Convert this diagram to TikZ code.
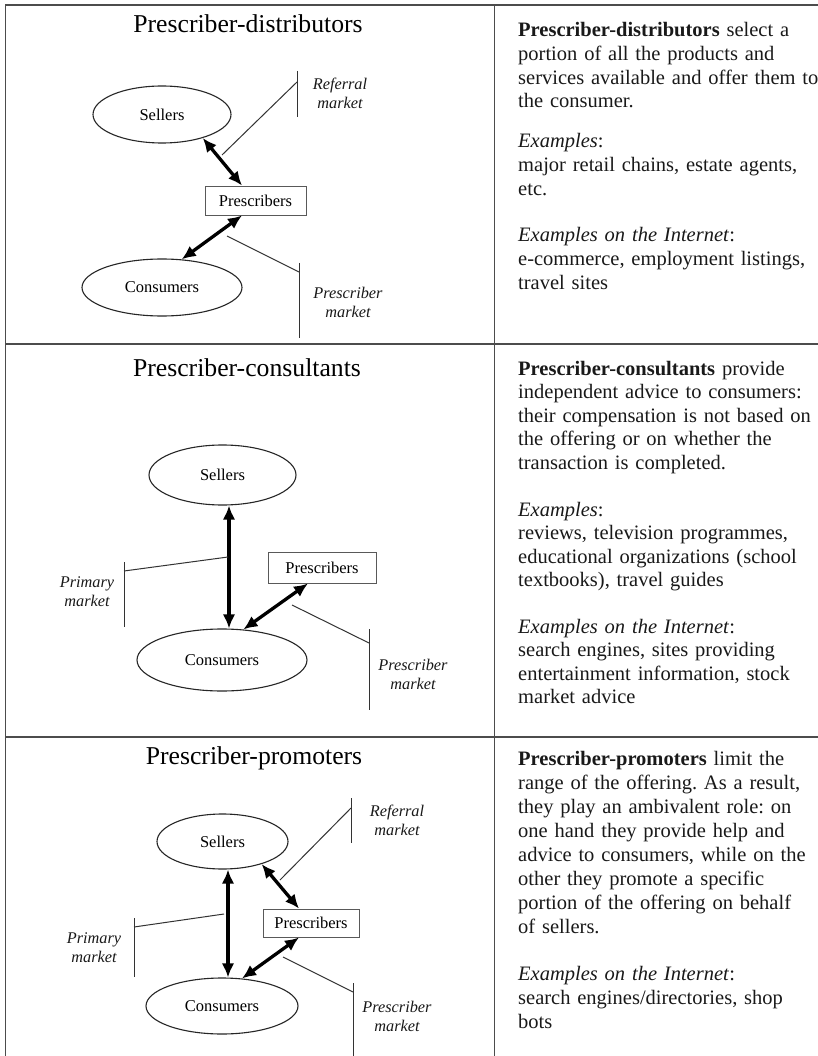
\documentclass[tikz,border=0pt]{standalone}
\usepackage{fontspec}
\setmainfont{Liberation Serif}
\usetikzlibrary{shapes.geometric,arrows.meta}
\frenchspacing
\begin{document}
\begin{tikzpicture}[x=1pt,y=-1pt,
  frame/.style={line width=1.3pt, draw=black!70},
  ttl/.style={anchor=base, inner sep=0, font=\fontsize{25.7}{30}\selectfont},
  ell/.style={ellipse, draw=black!85, line width=1.1pt, inner sep=0, font=\fontsize{16.5}{19}\selectfont},
  pbox/.style={rectangle, draw=black!65, line width=0.9pt, inner sep=0, font=\fontsize{16.5}{19}\selectfont},
  dbl/.style={{Latex[length=14pt,width=12.5pt]}-{Latex[length=14pt,width=12.5pt]}, line width=3.3pt},
  mk/.style={line width=1pt, draw=black!80},
  lbl/.style={align=center, inner sep=0, text=black!90, font=\fontsize{16.3}{19}\selectfont\itshape},
  para/.style={anchor=base west, inner sep=0, text width=320pt, align=left, text=black!90, font=\fontsize{20.5}{23.6}\selectfont\frenchspacing}
]
\fill[white] (0,0) rectangle (818,1056);
\useasboundingbox (0,0) rectangle (818,1056);
% frame
\draw[frame] (818,5) -- (5.5,5) -- (5.5,1056);
\draw[frame] (494.5,5) -- (494.5,1056);
\draw[frame] (5.5,344) -- (818,344);
\draw[frame] (5.5,737) -- (818,737);

% ===== Panel 1 =====
\node[ttl] (t1) at (248,33) {Prescriber-distributors};
\node[ell, minimum width=138pt, minimum height=57pt] (s1) at (162,114.5) {Sellers};
\node[pbox, minimum width=101pt, minimum height=29pt] (p1) at (255.5,200.5) {Prescribers};
\node[ell, minimum width=160pt, minimum height=57pt] (c1) at (162,287.5) {Consumers};
\draw[dbl] (s1.-30) -- ([xshift=-13.5pt]p1.north);
\draw[dbl] ([xshift=-13.5pt]p1.south) -- (c1.55.5);
\coordinate (r1a) at (222,155);
\coordinate (r1b) at (297,82);
\coordinate (r1t) at (297,71);
\coordinate (r1u) at (297,117);
\draw[mk] (r1a) -- (r1b);
\draw[mk] (r1t) -- (r1u);
\node[lbl] (lr1) at (340,93) {Referral\\market};
\coordinate (m1a) at (227,236);
\coordinate (m1b) at (299,272);
\coordinate (m1t) at (299,263);
\coordinate (m1u) at (299,338);
\draw[mk] (m1a) -- (m1b);
\draw[mk] (m1t) -- (m1u);
\node[lbl] (lm1) at (348,302) {Prescriber\\market};

\node[para] (d1a) at (518,37) {\textbf{Prescriber-distributors} select a\\portion of all the products and\\services available and offer them to\\the consumer.};
\node[para] (d1b) at (518,148) {\textit{Examples}:\\major retail chains, estate agents,\\etc.};
\node[para] (d1c) at (518,242) {\textit{Examples on the Internet}:\\e-commerce, employment listings,\\travel sites};

% ===== Panel 2 =====
\node[ttl] (t2) at (247,376) {Prescriber-consultants};
\node[ell, minimum width=147pt, minimum height=60pt] (s2) at (222.5,475) {Sellers};
\node[pbox, minimum width=108pt, minimum height=31pt] (p2) at (322,567.5) {Prescribers};
\node[ell, minimum width=170pt, minimum height=62pt] (c2) at (222,660) {Consumers};
\draw[dbl] ([xshift=6.5pt]s2.south) -- ([xshift=7pt]c2.north);
\draw[dbl] ([xshift=-14pt]p2.south) -- (c2.55.5);
\coordinate (q2a) at (228,557);
\coordinate (q2b) at (124,571);
\coordinate (q2t) at (124,562);
\coordinate (q2u) at (124,627);
\draw[mk] (q2a) -- (q2b);
\draw[mk] (q2t) -- (q2u);
\node[lbl] (lq2) at (87,592) {Primary\\market};
\coordinate (m2a) at (292,605);
\coordinate (m2b) at (369,643);
\coordinate (m2t) at (369,629);
\coordinate (m2u) at (369,710);
\draw[mk] (m2a) -- (m2b);
\draw[mk] (m2t) -- (m2u);
\node[lbl] (lm2) at (413,674) {Prescriber\\market};

\node[para] (d2a) at (518,375) {\textbf{Prescriber-consultants} provide\\independent advice to consumers:\\their compensation is not based on\\the offering or on whether the\\transaction is completed.};
\node[para] (d2b) at (518,516) {\textit{Examples}:\\reviews, television programmes,\\educational organizations (school\\textbooks), travel guides};
\node[para] (d2c) at (518,633) {\textit{Examples on the Internet}:\\search engines, sites providing\\entertainment information, stock\\market advice};

% ===== Panel 3 =====
\node[ttl] (t3) at (254,764) {Prescriber-promoters};
\node[ell, minimum width=131pt, minimum height=55pt] (s3) at (222.5,841.5) {Sellers};
\node[pbox, minimum width=96pt, minimum height=28pt] (p3) at (311,923) {Prescribers};
\node[ell, minimum width=152pt, minimum height=56pt] (c3) at (222,1006) {Consumers};
\draw[dbl] ([xshift=5.5pt]s3.south) -- ([xshift=6pt]c3.north);
\draw[dbl] (s3.-30) -- ([xshift=-12pt]p3.north);
\draw[dbl] ([xshift=-12pt]p3.south) -- (c3.54.5);
\coordinate (r3a) at (280,880);
\coordinate (r3b) at (351,808);
\coordinate (r3t) at (351,798);
\coordinate (r3u) at (351,843);
\draw[mk] (r3a) -- (r3b);
\draw[mk] (r3t) -- (r3u);
\node[lbl] (lr3) at (397,820.5) {Referral\\market};
\coordinate (q3a) at (224,914);
\coordinate (q3b) at (134,927);
\coordinate (q3t) at (134,918);
\coordinate (q3u) at (134,977);
\draw[mk] (q3a) -- (q3b);
\draw[mk] (q3t) -- (q3u);
\node[lbl] (lq3) at (94,948) {Primary\\market};
\coordinate (m3a) at (283,957);
\coordinate (m3b) at (353,992);
\coordinate (m3t) at (353,983);
\coordinate (m3u) at (353,1056);
\draw[mk] (m3a) -- (m3b);
\draw[mk] (m3t) -- (m3u);
\node[lbl] (lm3) at (397,1016.5) {Prescriber\\market};

\node[para, font=\fontsize{20.5}{24}\selectfont\frenchspacing] (d3a) at (518,765) {\textbf{Prescriber-promoters} limit the\\range of the offering. As a result,\\they play an ambivalent role: on\\one hand they provide help and\\advice to consumers, while on the\\other they promote a specific\\portion of the offering on behalf\\of sellers.};
\node[para, font=\fontsize{20.5}{24}\selectfont\frenchspacing] (d3b) at (518,980) {\textit{Examples on the Internet}:\\search engines/directories, shop\\bots};
\end{tikzpicture}
\end{document}
